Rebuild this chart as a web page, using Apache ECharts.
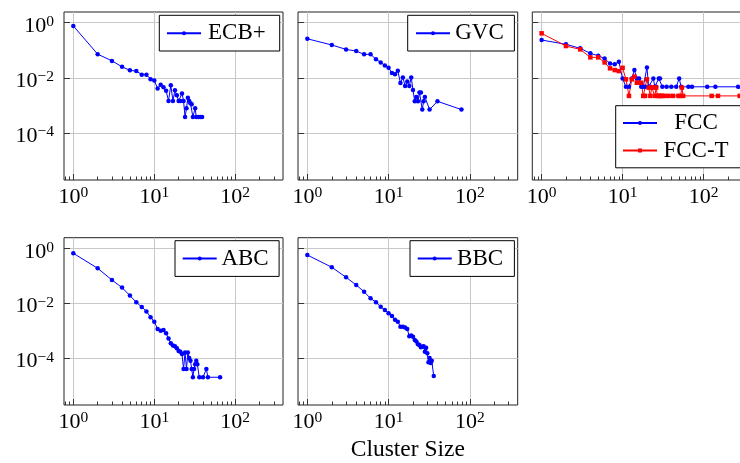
<!DOCTYPE html>
<html><head><meta charset="utf-8">
<script src="https://cdn.jsdelivr.net/npm/echarts@6/dist/echarts.min.js"></script>
<style>html,body{margin:0;padding:0;background:#fff}#c{width:740px;height:463px}</style>
</head><body><div id="c"></div>
<script>
// ---- data ----
const ecbX = [1,2,3,4,5,6,7,8,9,10,11,12,13,14,15,16,17,18,19,20,21,22,23,24,25,26,27,28,29,30,32,33,35,37,39];
const ecbY = [0.76,0.072,0.041,0.025,0.0186,0.0175,0.0130,0.0130,0.0089,0.0080,0.0041,0.0056,0.0045,0.0034,0.00145,0.0053,0.00145,0.0035,0.0023,0.00145,0.00145,0.0027,0.00145,0.00038,0.00078,0.0019,0.00145,0.0012,0.0011,0.00038,0.00078,0.00038,0.00038,0.00038,0.00038];

const gvcX = [1,2,3,4,5,6,7,8,9,10,11,12,13,14,15,16,17,18,19,20,21,22,23,24,25,26,27,28,32,40,79];
const gvcY = [0.26,0.155,0.107,0.093,0.071,0.071,0.047,0.036,0.028,0.023,0.0148,0.0135,0.018,0.0064,0.0103,0.005,0.0074,0.005,0.0103,0.0036,0.0014,0.002,0.0014,0.0029,0.0029,0.0007,0.0014,0.002,0.0007,0.0014,0.0007];

const fccX = [1,2,3,4,5,6,7,8,9,10,11,12,13,14,15,16,17,18,19,20,21,22,24,25,26,28,29,31,35,40,46,50,53,65,72,111,140,267];
const fccY = [0.234,0.164,0.117,0.077,0.063,0.050,0.033,0.031,0.038,0.0094,0.0047,0.0047,0.0094,0.019,0.0094,0.0094,0.0047,0.0047,0.0047,0.0236,0.0047,0.0047,0.0094,0.0047,0.0047,0.0094,0.0094,0.0047,0.0047,0.0047,0.0047,0.0094,0.0047,0.0047,0.0047,0.0047,0.0047,0.0047];

const fcctX = [1,2,3,4,5,6,7,8,9,10,11,12,13,14,15,16,17,18,19,20,21,22,23,24,25,26,27,28,29,30,31,33,37,42,49,52,54,56,126,151,280];
const fcctY = [0.41,0.142,0.107,0.055,0.055,0.036,0.022,0.019,0.0175,0.023,0.0088,0.0022,0.0088,0.011,0.0066,0.0066,0.0066,0.0022,0.0022,0.0088,0.0044,0.0022,0.0044,0.0044,0.0022,0.0044,0.0022,0.0022,0.0022,0.0022,0.0022,0.0022,0.0022,0.0022,0.0022,0.0022,0.0044,0.0022,0.0022,0.0022,0.0022];

const abcX = [1,2,3,4,5,6,7,8,9,10,11,12,13,14,15,16,17,18,19,20,21,22,23,24,25,26,27,28,29,30,31,32,33,34,36,40,44,46,65];
const abcY = [0.66,0.187,0.070,0.037,0.019,0.0108,0.0073,0.0050,0.0031,0.0021,0.00115,0.0010,0.00105,0.0008,0.00052,0.00035,0.00029,0.00027,0.00023,0.00018,0.00017,0.00014,0.00004,0.00016,0.00004,0.00016,0.0001,0.00008,0.00004,0.00002,0.00004,0.00006,0.00008,0.00006,0.00002,0.00002,0.00004,0.00002,0.00002];

const bbcX = [1,2,3,4,5,6,7,8,9,10,11,12,13,14,15,16,17,18,19,20,21,22,23,24,25,26,27,28,29,30,31,32,33,34,36];
const bbcY = [0.57,0.204,0.088,0.046,0.026,0.015,0.0108,0.0075,0.0056,0.0043,0.0034,0.0025,0.0021,0.0014,0.0014,0.0013,0.00115,0.00062,0.00066,0.0006,0.00046,0.0004,0.00032,0.0003,0.00025,0.00026,0.00027,0.00017,0.00024,0.00015,0.00007,0.0001,0.000066,0.00008,0.000022];

const xTickValues = [1, 10, 100];
const yTickValues = [1, 0.01, 0.0001];
const xAxisTitle = 'Cluster Size';

// ---- layout / style ----
const FONT = 'Liberation Serif';
const XMIN = Math.pow(10, -0.115), XMAX = Math.pow(10, 2.59);
const YMIN = Math.pow(10, -5.71), YMAX = Math.pow(10, 0.387);
const grids = [
  {left:64, top:12, width:219, height:168},
  {left:298, top:12, width:219.7, height:168},
  {left:532.3, top:12, width:219, height:168},
  {left:64, top:237.7, width:219, height:167.3},
  {left:298, top:237.7, width:219.7, height:167.3}
];
function fmt(v){
  const e = Math.round(Math.log10(v));
  return '{b|10}{s|' + (e < 0 ? '\u2212' + (-e) : e) + '}';
}
const rich = {
  b:{fontFamily:FONT, fontSize:22, color:'#000', lineHeight:24},
  s:{fontFamily:FONT, fontSize:15.5, color:'#000', verticalAlign:'top', lineHeight:15}
};
const BLUE = '#0000ff', RED = '#ff0000';

const gridOpt = grids.map(g => Object.assign({show:true, borderColor:'#222', borderWidth:1, backgroundColor:'transparent', outerBoundsMode:'none', containLabel:false}, g));

const xAxes = grids.map((g,i) => ({
  gridIndex:i, type:'log', logBase:10, min:XMIN, max:XMAX,
  axisLine:{show:false},
  axisTick:{show:true, inside:true, length:6, customValues:xTickValues, lineStyle:{color:'#333'}},
  minorTick:{show:true, splitNumber:9, length:3.5, lineStyle:{color:'#333', width:1}},
  axisLabel:{show:true, customValues:xTickValues, formatter:fmt, rich:rich, margin:5},
  splitLine:{show:true, lineStyle:{color:'#c8c8c8', width:1}},
  minorSplitLine:{show:false},
  name: i === 4 ? xAxisTitle : '',
  nameLocation:'middle', nameGap:33,
  nameTextStyle:{fontFamily:FONT, fontSize:23.5, color:'#000'}
}));
const yAxes = grids.map((g,i) => ({
  gridIndex:i, type:'log', logBase:10, min:YMIN, max:YMAX,
  axisLine:{show:false},
  axisTick:{show:true, inside:true, length:6, customValues:yTickValues, lineStyle:{color:'#333'}},
  minorTick:{show:false},
  axisLabel:{show:(i===0||i===3), customValues:yTickValues, formatter:fmt, rich:rich, margin:10, padding:[7,0,0,0]},
  splitLine:{show:true, lineStyle:{color:'#c8c8c8', width:1}}
}));

function mk(name, xs, ys, gi, color, symbol, size){
  return {type:'line', name:name, xAxisIndex:gi, yAxisIndex:gi,
    data: xs.map((x,k) => [x, ys[k]]),
    symbol:symbol, symbolSize:size, showSymbol:true, showAllSymbol:true,
    lineStyle:{color:color, width:1}, itemStyle:{color:color},
    emphasis:{disabled:true}, animation:false, silent:true, z:3};
}
const series = [
  mk('ECB+', ecbX, ecbY, 0, BLUE, 'circle', 4.5),
  mk('GVC', gvcX, gvcY, 1, BLUE, 'circle', 4.5),
  mk('FCC', fccX, fccY, 2, BLUE, 'circle', 4.5),
  mk('FCC-T', fcctX, fcctY, 2, RED, 'rect', 4.5),
  mk('ABC', abcX, abcY, 3, BLUE, 'circle', 4.5),
  mk('BBC', bbcX, bbcY, 4, BLUE, 'circle', 4.5)
];

function legend(names, left, top, pad, textW, gap){
  return {show:true, data:names, left:left, top:top, orient:'vertical',
    padding:pad, itemWidth:34, itemHeight:5, itemGap:gap||4,
    borderColor:'#000', borderWidth:1, backgroundColor:'#fff',
    selectedMode:false, z:10,
    formatter:'{a|{name}}',
    textStyle:{rich:{a:{fontFamily:FONT, fontSize:23, color:'#000', width:textW, align:'center', lineHeight:22}}}};
}
const legends = [
  legend(['ECB+'], 159.3, 15.3, [6.35,12,6.35,6.7], 61.7),
  legend(['GVC'], 407.7, 15.3, [6.35,10.4,6.35,7.3], 49),
  legend(['FCC','FCC-T'], 615.7, 105.7, [5.8,14,5.8,6.3], 68, 4.5),
  legend(['ABC'], 175, 240.7, [6.35,10.4,6.35,6.7], 46.7),
  legend(['BBC'], 410, 240.7, [6.35,11,6.35,6.7], 46.7)
];

const chart = echarts.init(document.getElementById('c'), null, {renderer:'canvas'});
chart.setOption({
  animation:false,
  backgroundColor:'#fff',
  grid:gridOpt, xAxis:xAxes, yAxis:yAxes, legend:legends, series:series
});
</script></body></html>
